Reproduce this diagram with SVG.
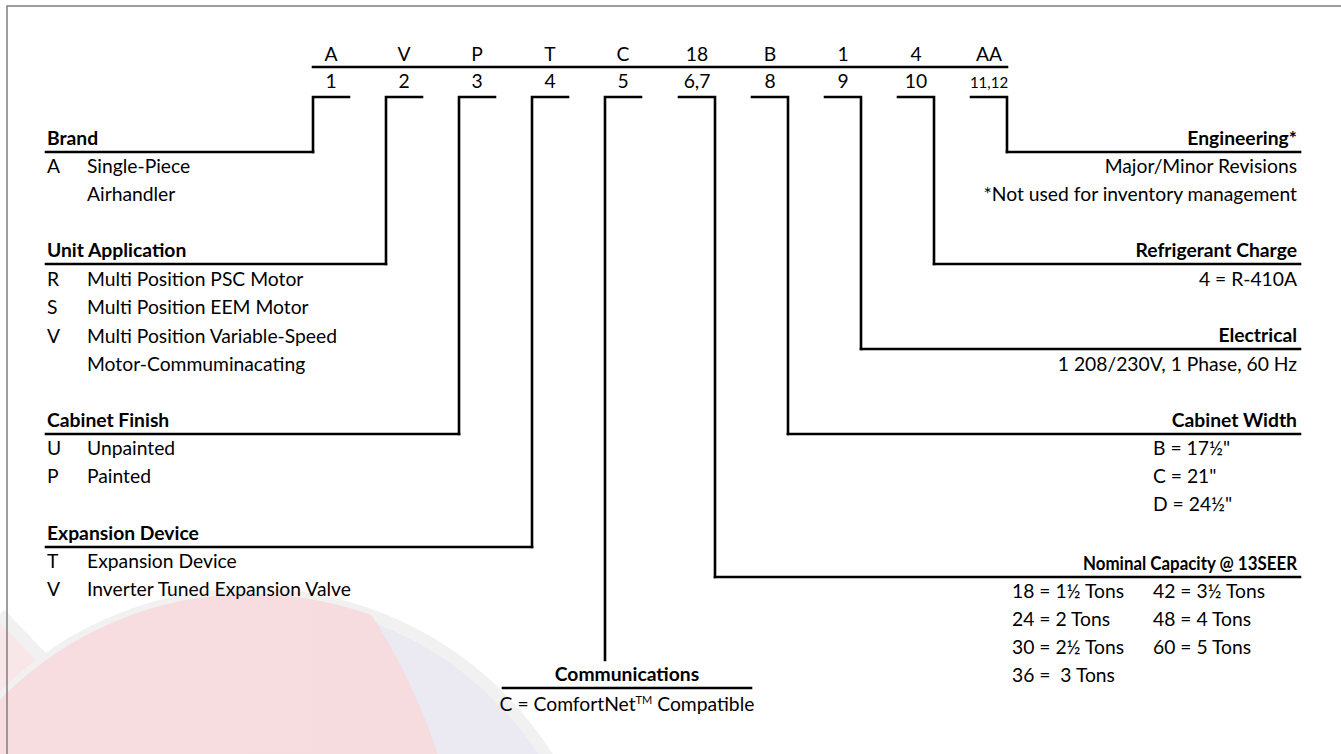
<svg xmlns="http://www.w3.org/2000/svg" width="1341" height="754" viewBox="0 0 1341 754">
<style>
.t{font-family:Lato,"Liberation Sans",sans-serif;font-size:19.3px;fill:#000}
.b{font-weight:bold}
.e{text-anchor:end}
.m{text-anchor:middle}
.ln{stroke:#000;stroke-width:2.6;fill:none;stroke-linecap:square}
</style>
<defs>
<clipPath id="wmclip"><circle cx="251" cy="945" r="351"/></clipPath>
<linearGradient id="pinkg" x1="0" y1="0" x2="1" y2="0">
<stop offset="0" stop-color="#fbeaec"/>
<stop offset="0.6" stop-color="#f7dde0"/>
<stop offset="1" stop-color="#f6dbdf"/>
</linearGradient>
</defs>
<rect x="0" y="0" width="1341" height="754" fill="#fff"/>
<g id="watermark">
<path d="M45,661 L0,614 L0,754 L45,754 Z" fill="#f9e6e8"/>
<path d="M45,661 L0,614" stroke="#f1f1f1" stroke-width="12" fill="none"/>
<circle cx="251" cy="945" r="351" fill="#ebe9f2" stroke="#f1f1f1" stroke-width="12"/>
<circle cx="-146" cy="945" r="614" fill="url(#pinkg)" clip-path="url(#wmclip)"/>
</g>
<rect x="7" y="6" width="1360" height="780" fill="none" stroke="#7f7f7f" stroke-width="1.5"/>

<g id="code">
<path class="ln" d="M313,67 H1007"/>
<g class="t m">
<text x="331" y="61">A</text><text x="404" y="61">V</text><text x="477" y="61">P</text><text x="550" y="61">T</text><text x="623" y="61">C</text><text x="697" y="61">18</text><text x="770" y="61">B</text><text x="843" y="61">1</text><text x="916" y="61">4</text><text x="989" y="61">AA</text>
<text x="331" y="88">1</text><text x="404" y="88">2</text><text x="477" y="88">3</text><text x="550" y="88">4</text><text x="623" y="88">5</text><text x="697" y="88">6,7</text><text x="770" y="88">8</text><text x="843" y="88">9</text><text x="916" y="88">10</text><text x="989" y="88" style="font-size:15px">11,12</text>
</g>
</g>

<g id="connectors">
<path class="ln" d="M349,97 H313 V152"/>
<path class="ln" d="M422,97 H386 V264"/>
<path class="ln" d="M495,97 H459 V434"/>
<path class="ln" d="M568,97 H532 V547"/>
<path class="ln" d="M641,97 H605 V660"/>
<path class="ln" d="M679,97 H715 V577"/>
<path class="ln" d="M752,97 H788 V434"/>
<path class="ln" d="M825,97 H861 V349"/>
<path class="ln" d="M898,97 H934 V264"/>
<path class="ln" d="M971,97 H1007 V152"/>
</g>

<g id="brand">
<path class="ln" d="M46,152 H313"/>
<text class="t b" x="47" y="145">Brand</text>
<text class="t" x="47" y="173">A</text><text class="t" x="87" y="173">Single-Piece</text>
<text class="t" x="87" y="201">Airhandler</text>
</g>
<g id="unit-application">
<path class="ln" d="M46,264 H386"/>
<text class="t b" x="47" y="257">Unit Application</text>
<text class="t" x="47" y="286">R</text><text class="t" x="87" y="286">Multi Position PSC Motor</text>
<text class="t" x="47" y="314">S</text><text class="t" x="87" y="314">Multi Position EEM Motor</text>
<text class="t" x="47" y="343">V</text><text class="t" x="87" y="343">Multi Position Variable-Speed</text>
<text class="t" x="87" y="371">Motor-Commuminacating</text>
</g>
<g id="cabinet-finish">
<path class="ln" d="M46,434 H459"/>
<text class="t b" x="47" y="427">Cabinet Finish</text>
<text class="t" x="47" y="455">U</text><text class="t" x="87" y="455">Unpainted</text>
<text class="t" x="47" y="483">P</text><text class="t" x="87" y="483">Painted</text>
</g>
<g id="expansion-device">
<path class="ln" d="M46,547 H532"/>
<text class="t b" x="47" y="540">Expansion Device</text>
<text class="t" x="47" y="568">T</text><text class="t" x="87" y="568">Expansion Device</text>
<text class="t" x="47" y="596">V</text><text class="t" x="87" y="596">Inverter Tuned Expansion Valve</text>
</g>
<g id="communications">
<path class="ln" d="M503,688 H751"/>
<text class="t b m" x="627" y="681">Communications</text>
<text class="t m" x="627" y="711">C = ComfortNet<tspan dy="-7" style="font-size:11px">TM</tspan><tspan dy="7"> Compatible</tspan></text>
</g>
<g id="nominal-capacity">
<path class="ln" d="M715,577 H1300"/>
<text class="t b e" x="1297" y="570" textLength="214" lengthAdjust="spacingAndGlyphs">Nominal Capacity @ 13SEER</text>
<text class="t" x="1012" y="598">18 = 1½ Tons</text><text class="t" x="1153" y="598">42 = 3½ Tons</text>
<text class="t" x="1012" y="626">24 = 2 Tons</text><text class="t" x="1153" y="626">48 = 4 Tons</text>
<text class="t" x="1012" y="654">30 = 2½ Tons</text><text class="t" x="1153" y="654">60 = 5 Tons</text>
<text class="t" x="1012" y="682" xml:space="preserve">36 =  3 Tons</text>
</g>
<g id="cabinet-width">
<path class="ln" d="M788,434 H1300"/>
<text class="t b e" x="1297" y="427">Cabinet Width</text>
<text class="t" x="1153" y="455">B = 17½"</text>
<text class="t" x="1153" y="483">C = 21"</text>
<text class="t" x="1153" y="511">D = 24½"</text>
</g>
<g id="electrical">
<path class="ln" d="M861,349 H1300"/>
<text class="t b e" x="1297" y="342">Electrical</text>
<text class="t e" x="1297" y="371">1 208/230V, 1 Phase, 60 Hz</text>
</g>
<g id="refrigerant-charge">
<path class="ln" d="M934,264 H1300"/>
<text class="t b e" x="1297" y="257">Refrigerant Charge</text>
<text class="t e" x="1297" y="286">4 = R-410A</text>
</g>
<g id="engineering">
<path class="ln" d="M1007,152 H1300"/>
<text class="t b e" x="1297" y="145">Engineering*</text>
<text class="t e" x="1297" y="173">Major/Minor Revisions</text>
<text class="t e" x="1297" y="201">*Not used for inventory management</text>
</g>
</svg>
